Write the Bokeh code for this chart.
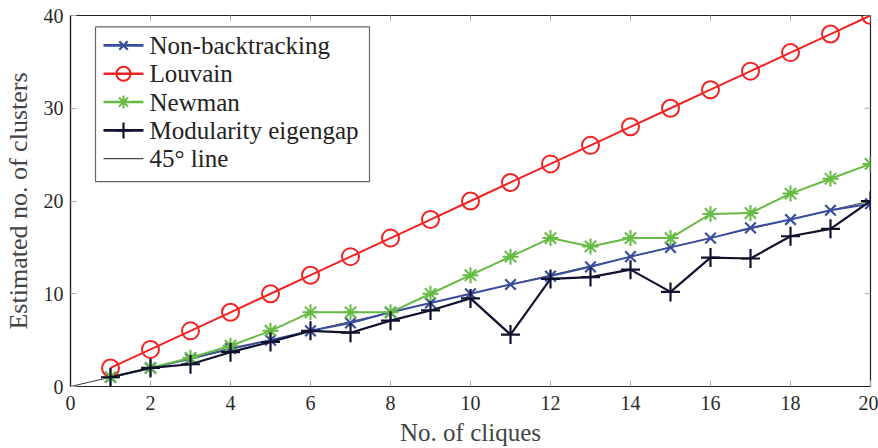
import math
from bokeh.plotting import figure
from bokeh.models import Label, FixedTicker, Range1d
from bokeh.embed import file_html
from bokeh.resources import INLINE

cliques = list(range(1, 21))
non_backtracking = [1, 2, 3, 4.1, 5, 6, 6.85, 8, 9, 10, 11, 11.9, 12.9, 14, 15, 16, 17.1, 18, 19, 19.7]
louvain = [2, 4, 6, 8, 10, 12, 14, 16, 18, 20, 22, 24, 26, 28, 30, 32, 34, 36, 38, 40]
newman = [1, 2, 3.1, 4.4, 6, 8, 8, 8, 10, 12, 14, 16, 15.1, 16, 16, 18.6, 18.7, 20.8, 22.4, 24]
mod_eigengap = [1, 2, 2.4, 3.7, 4.8, 6, 5.8, 7.1, 8.2, 9.5, 5.6, 11.6, 11.8, 12.6, 10.2, 13.9, 13.8, 16.2, 17, 20]
line45_x = [0, 20]
line45_y = [0, 20]
x_ticks = [0, 2, 4, 6, 8, 10, 12, 14, 16, 18, 20]
y_ticks = [0, 10, 20, 30, 40]
legend_labels = ["Non-backtracking", "Louvain", "Newman", "Modularity eigengap", "45° line"]
X_MAX = 20
Y_MAX = 40

FONT = "Liberation Serif"
TEXT = "#2a2a2a"

# layout (pixels)
W, H = 878, 448
LEFT, RIGHT, TOP, BOTTOM = 70, 8, 15, 61
FW, FH = W - LEFT - RIGHT, H - TOP - BOTTOM


def fx(px):
    return (px - LEFT) / FW * X_MAX


def fy(py):
    return (TOP + FH - py) / FH * Y_MAX


p = figure(width=W, height=H, output_backend="svg", toolbar_location=None,
           x_range=Range1d(0, X_MAX), y_range=Range1d(0, Y_MAX),
           min_border_left=LEFT, min_border_right=RIGHT, min_border_top=TOP, min_border_bottom=20)
p.background_fill_color = "white"
p.border_fill_color = "white"
p.outline_line_color = "#222222"
p.outline_line_width = 1.2
p.xgrid.visible = False
p.ygrid.visible = False

for ax, ticks in ((p.xaxis[0], x_ticks), (p.yaxis[0], y_ticks)):
    ax.ticker = FixedTicker(ticks=ticks)
    ax.major_tick_in = 6
    ax.major_tick_out = 0
    ax.minor_tick_line_color = None
    ax.major_tick_line_color = "#aaaaaa"
    ax.axis_line_color = "#222222"
    ax.axis_line_width = 1.2
    ax.major_label_text_font = FONT
    ax.major_label_text_font_size = "20px"
    ax.major_label_text_color = TEXT
    ax.axis_label_text_font = FONT
    ax.axis_label_text_font_style = "normal"
    ax.axis_label_text_color = "#444444"

p.xaxis.axis_label = "No. of cliques"
p.yaxis.axis_label = "Estimated no. of clusters"
p.xaxis.axis_label_text_font_size = "25px"
p.yaxis.axis_label_text_font_size = "26px"
p.xaxis.major_label_standoff = 9
p.yaxis.major_label_standoff = 7
p.xaxis.axis_label_standoff = 6
p.yaxis.axis_label_standoff = 8

# tick marks on the top and right frame edges (inside, clipped by the frame)
p.scatter(x_ticks, [Y_MAX] * len(x_ticks), marker="dash", angle=math.pi / 2, size=12,
          line_color="#aaaaaa", line_width=1)
p.scatter([X_MAX] * len(y_ticks), y_ticks, marker="dash", size=12,
          line_color="#aaaaaa", line_width=1)

BLUE = "#3a4ea0"
RED = "#f02222"
GREEN = "#66bb44"
DARK = "#10122e"

styles = [
    dict(color=BLUE, marker="x", size=15, lw=2.0, mlw=2.2, fill=None),
    dict(color=RED, marker="circle", size=17, lw=2.0, mlw=2.0, fill=None),
    dict(color=GREEN, marker="asterisk", size=16, lw=2.0, mlw=2.0, fill=None),
    dict(color=DARK, marker="cross", size=19, lw=2.2, mlw=2.2, fill=None),
]
series = [non_backtracking, louvain, newman, mod_eigengap]

p.line(line45_x, line45_y, line_color="black", line_width=0.8)
for ys, st in zip(series, styles):
    p.line(cliques, ys, line_color=st["color"], line_width=st["lw"])
    p.scatter(cliques, ys, marker=st["marker"], size=st["size"], line_color=st["color"],
              fill_color=st["fill"], line_width=st["mlw"])

# legend box (drawn by hand so that its text uses the serif font)
BOX_L, BOX_R, BOX_T, BOX_B = 95, 369, 26.5, 181.5
ROW0, ROW_STEP = 45, 28.4
SAMPLE_L, SAMPLE_R, TEXT_X = 103, 143, 149
p.quad(left=[fx(BOX_L)], right=[fx(BOX_R)], top=[fy(BOX_T)], bottom=[fy(BOX_B)],
       fill_color="white", line_color="#666666", line_width=1.2)
for i, lab in enumerate(legend_labels):
    yrow = fy(ROW0 + i * ROW_STEP)
    if i < len(styles):
        st = styles[i]
        p.line([fx(SAMPLE_L), fx(SAMPLE_R)], [yrow, yrow], line_color=st["color"], line_width=st["lw"] + 0.6)
        p.scatter([fx((SAMPLE_L + SAMPLE_R) / 2)], [yrow], marker=st["marker"], size=st["size"] - 3,
                  line_color=st["color"], fill_color=st["fill"], line_width=st["mlw"])
    else:
        p.line([fx(SAMPLE_L), fx(SAMPLE_R)], [yrow, yrow], line_color="black", line_width=0.9)
    p.add_layout(Label(x=fx(TEXT_X), y=yrow, text=lab, text_font=FONT, text_font_size="25px",
                       text_color="#222222", text_baseline="middle"))

open("out.html", "w").write(file_html(p, INLINE))
